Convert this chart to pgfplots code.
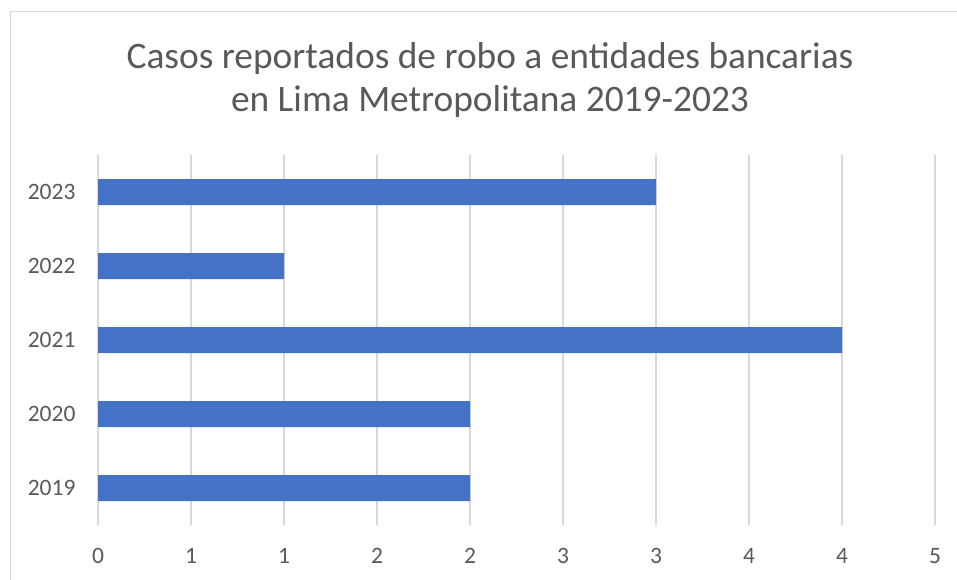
\documentclass[border=0pt]{standalone}
\usepackage{pgfplots}
\pgfplotsset{compat=1.18}
\usepackage{fontspec}
\setmainfont{Carlito}
\definecolor{barblue}{HTML}{4472C4}
\definecolor{gridgray}{HTML}{D9D9D9}
\definecolor{txtgray}{HTML}{595959}
\begin{document}
\begin{tikzpicture}[x=1pt,y=1pt]
\path[use as bounding box] (0,0) rectangle (957,-579);
\draw[gridgray, line width=1.2pt] (10.5,-590) -- (10.5,-11.5) -- (970,-11.5);
\node[txtgray, align=center, font=\fontsize{37.4}{43}\selectfont] at (490,-80.5) {Casos reportados de robo a entidades bancarias\\en Lima Metropolitana 2019-2023};
\begin{axis}[
  at={(98pt,-525pt)}, anchor=south west,
  scale only axis, width=837pt, height=370pt,
  xmin=0, xmax=4.5, ymin=-0.5, ymax=4.5,
  axis line style={draw=none},
  xtick={0,0.5,1,1.5,2,2.5,3,3.5,4,4.5},
  xticklabels={0,1,1,2,2,3,3,4,4,5},
  ytick={0,1,2,3,4},
  yticklabels={2019,2020,2021,2022,2023},
  major tick length=0pt,
  xmajorgrids, ymajorgrids=false,
  grid style={gridgray, line width=1.2pt},
  tick label style={txtgray, font=\fontsize{23.5}{26}\selectfont},
  xticklabel style={yshift=-20pt},
  yticklabel style={xshift=-19pt},
  /pgf/number format/assume math mode=true,
  xbar, bar width=26pt,
  clip=false,
]
\addplot[fill=barblue, draw=none] coordinates {(2,0) (2,1) (4,2) (1,3) (3,4)};
\end{axis}
\end{tikzpicture}
\end{document}
